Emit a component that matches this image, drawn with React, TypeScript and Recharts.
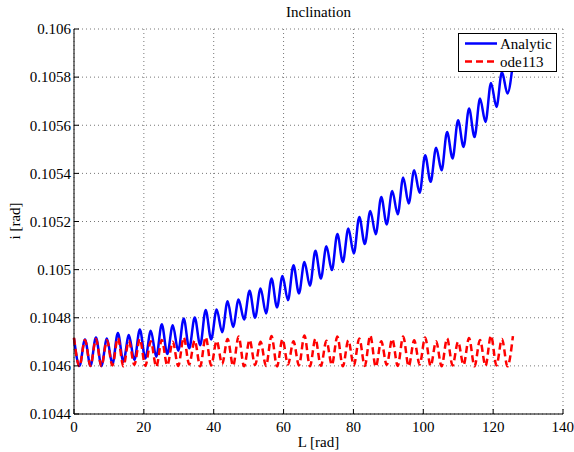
import { LineChart, Line, XAxis, YAxis, CartesianGrid, Label } from "recharts"

const FONT = "'Liberation Serif', 'Times New Roman', serif"

// spacing in L between one extreme and the next (half an oscillation)
const HALF_PERIOD = 1.5708

const X_TICKS = [0, 20, 40, 60, 80, 100, 120, 140]
const Y_TICKS = [0.1044, 0.1046, 0.1048, 0.105, 0.1052, 0.1054, 0.1056, 0.1058, 0.106]

// Analytic: value at each crest / dip
const analyticPeaks = [
  0.104714, 0.10471, 0.104718, 0.104714, 0.104737, 0.104728, 0.104751, 0.104746, 0.104773, 0.104769,
  0.104797, 0.104801, 0.104832, 0.104834, 0.104869, 0.104876, 0.104912, 0.104922, 0.104963, 0.104973,
  0.105018, 0.105032, 0.105078, 0.105097, 0.105148, 0.105171, 0.105219, 0.105244, 0.105302, 0.105327,
  0.105383, 0.105413, 0.105475, 0.105507, 0.105572, 0.105621, 0.10567, 0.105711, 0.105776, 0.105821,
  0.10586
]
const analyticTroughs = [
  0.1046, 0.1046, 0.1046, 0.104607, 0.104617, 0.104624, 0.104631, 0.104638, 0.104649, 0.104663,
  0.104673, 0.104686, 0.10471, 0.10474, 0.104762, 0.104793, 0.1048, 0.104818, 0.104843, 0.104873,
  0.104901, 0.104933, 0.104963, 0.104998, 0.105032, 0.105067, 0.105106, 0.105147, 0.105188, 0.10523,
  0.105275, 0.105319, 0.105365, 0.105413, 0.105462, 0.10551, 0.105551, 0.105614, 0.105676, 0.105732
]

// ode113: crest / dip values
const odePeaks = [
  0.104716, 0.104708, 0.104712, 0.104706, 0.104716, 0.104704, 0.104712, 0.104702, 0.104708, 0.1047,
  0.104718, 0.104706, 0.10472, 0.104704, 0.104712, 0.104722, 0.104708, 0.1047, 0.104724, 0.10471,
  0.104702, 0.104726, 0.104712, 0.104704, 0.104722, 0.104706, 0.104714, 0.104726, 0.104702, 0.104712,
  0.104722, 0.104706, 0.104718, 0.104702, 0.104714, 0.1047, 0.104716, 0.104708, 0.104726, 0.104712,
  0.104724
]
const odeTroughs = [
  0.104598, 0.1046, 0.104598, 0.104602, 0.104598, 0.104604, 0.1046, 0.104596, 0.104602, 0.1046,
  0.104606, 0.104598, 0.104602, 0.104608, 0.1046, 0.104598, 0.104604, 0.1046, 0.104598, 0.104606,
  0.104602, 0.104598, 0.1046, 0.104604, 0.104598, 0.104602, 0.1046, 0.104596, 0.104604, 0.1046,
  0.104598, 0.104606, 0.1046, 0.104598, 0.104602, 0.104604, 0.104598, 0.1046, 0.104602, 0.104598
]

const data = Array.from({ length: analyticPeaks.length + analyticTroughs.length }, (_, i) => ({
  L: +(i * HALF_PERIOD).toFixed(4),
  analytic: i % 2 === 0 ? analyticPeaks[i / 2] : analyticTroughs[(i - 1) / 2],
  ode: i % 2 === 0 ? odePeaks[i / 2] : odeTroughs[(i - 1) / 2]
}))

const tickStyle = { fill: "#000", fontSize: 15, fontFamily: FONT }

export default function App() {

  return (

    <div style={{ position: "absolute", left: 0, top: 0, width: 574, height: 452, background: "#fff" }}>

      <LineChart
        width={574}
        height={452}
        data={data}
        margin={{ top: 29, right: 11, bottom: 0, left: 0 }}
      >

        <CartesianGrid stroke="#777" strokeDasharray="1 3" />

        <XAxis
          dataKey="L"
          type="number"
          domain={[0, 140]}
          ticks={X_TICKS}
          height={38}
          tickSize={-5}
          tickMargin={12}
          stroke="#000"
          tick={tickStyle}
        >
          <Label
            content={() => (
              <text x={318.5} y={447} textAnchor="middle" fontSize={15} fontFamily={FONT} fill="#000">
                L [rad]
              </text>
            )}
          />
        </XAxis>

        <XAxis
          xAxisId="top"
          orientation="top"
          dataKey="L"
          type="number"
          domain={[0, 140]}
          ticks={X_TICKS}
          height={0}
          tickSize={-5}
          tick={false}
          stroke="#000"
        />

        <YAxis
          type="number"
          domain={[0.1044, 0.106]}
          ticks={Y_TICKS}
          width={74}
          tickSize={-5}
          tickMargin={8}
          stroke="#000"
          tick={tickStyle}
          tickFormatter={(v: number) => String(+v.toFixed(4))}
          allowDataOverflow
        >
          <Label
            content={() => (
              <text x={20} y={221} transform="rotate(-90 20 221)" textAnchor="middle" fontSize={15} fontFamily={FONT} fill="#000">
                i [rad]
              </text>
            )}
          />
        </YAxis>

        <YAxis
          yAxisId="right"
          orientation="right"
          type="number"
          domain={[0.1044, 0.106]}
          ticks={Y_TICKS}
          width={0}
          tickSize={-5}
          tick={false}
          stroke="#000"
        />

        <Line
          dataKey="analytic"
          name="Analytic"
          type="monotone"
          stroke="#0000FF"
          strokeWidth={2.5}
          dot={false}
          isAnimationActive={false}
        />

        <Line
          dataKey="ode"
          name="ode113"
          type="monotone"
          stroke="#FF0000"
          strokeWidth={2.5}
          strokeDasharray="7 4"
          dot={false}
          isAnimationActive={false}
        />

      </LineChart>

      <svg width={574} height={452} style={{ position: "absolute", left: 0, top: 0, pointerEvents: "none" }}>

        <text x={318.5} y={17} textAnchor="middle" fontSize={15} fontFamily={FONT} fill="#000">
          Inclination
        </text>

        <rect x={458.5} y={33.5} width={98} height={38} fill="#fff" stroke="#000" />
        <line x1={465} x2={497} y1={43.5} y2={43.5} stroke="#0000FF" strokeWidth={2.5} />
        <text x={500} y={48.5} fontSize={15} fontFamily={FONT} fill="#000">Analytic</text>
        <line x1={465} x2={497} y1={61.5} y2={61.5} stroke="#FF0000" strokeWidth={2.5} strokeDasharray="7 4" />
        <text x={500} y={66.5} fontSize={15} fontFamily={FONT} fill="#000">ode113</text>

      </svg>

    </div>

  )

}
